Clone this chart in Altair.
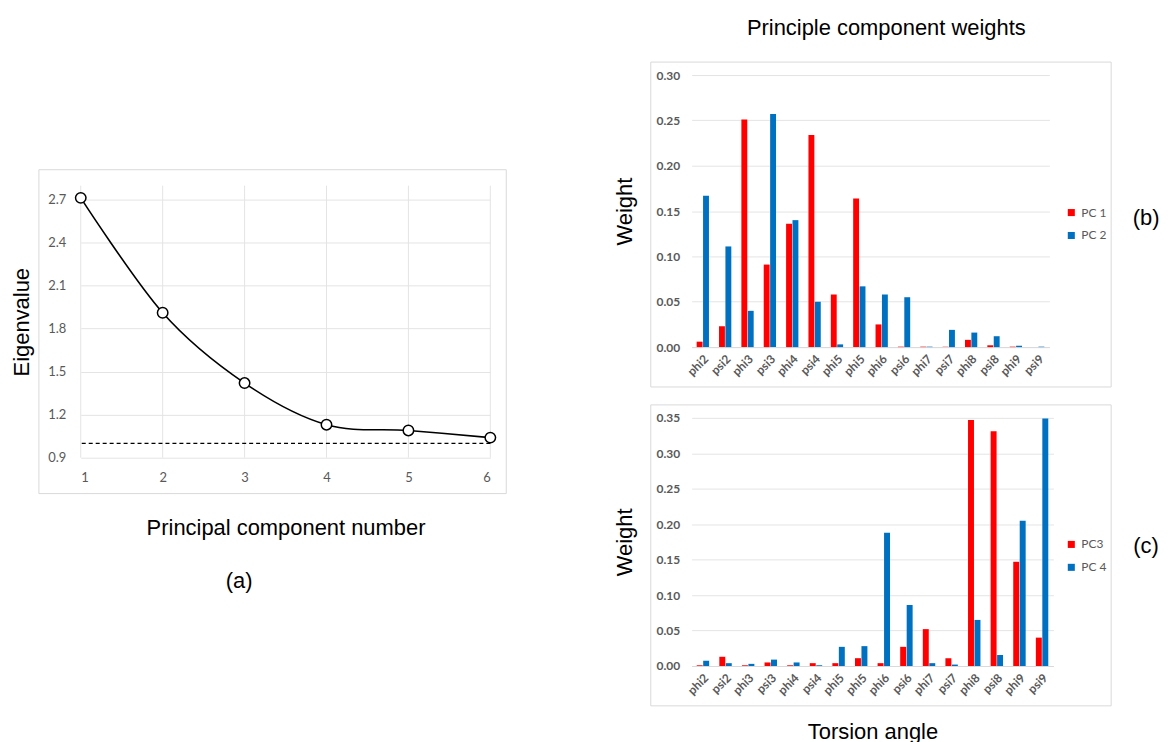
import json
import altair as alt
import pandas as pd

# ---------------- data ----------------
PC_NUMBER = [1, 2, 3, 4, 5, 6]
EIGENVALUES = [2.71, 1.91, 1.42, 1.13, 1.09, 1.04]
EIG_THRESHOLD = 1.0
EIG_TICKS = [0.9, 1.2, 1.5, 1.8, 2.1, 2.4, 2.7]
EIG_DOMAIN = [0.9, 2.795]

TORSION_LABELS = ["phi2", "psi2", "phi3", "psi3", "phi4", "psi4", "phi5", "phi5",
                  "phi6", "psi6", "phi7", "psi7", "phi8", "psi8", "phi9", "psi9"]
PC1 = [0.006, 0.023, 0.251, 0.091, 0.136, 0.234, 0.058, 0.164,
       0.025, 0.0005, 0.0005, 0.0005, 0.008, 0.002, 0.0005, 0.0]
PC2 = [0.167, 0.111, 0.040, 0.257, 0.140, 0.050, 0.003, 0.067,
       0.058, 0.055, 0.0005, 0.019, 0.016, 0.012, 0.0015, 0.0005]
PC3 = [0.001, 0.013, 0.001, 0.005, 0.001, 0.004, 0.004, 0.011,
       0.004, 0.027, 0.052, 0.011, 0.347, 0.331, 0.147, 0.040]
PC4 = [0.0075, 0.004, 0.003, 0.009, 0.005, 0.001, 0.027, 0.028,
       0.188, 0.086, 0.004, 0.002, 0.065, 0.0155, 0.205, 0.349]
SERIES_B = ["PC 1", "PC 2"]
SERIES_C = ["PC3", "PC 4"]
W_TICKS_B = [0.0, 0.05, 0.10, 0.15, 0.20, 0.25, 0.30]
W_TICKS_C = [0.0, 0.05, 0.10, 0.15, 0.20, 0.25, 0.30, 0.35]

RED = "#FF0000"
BLUE = "#0070C0"
GRID = "#e4e4e4"
BORDER = "#d9d9d9"
TICKC = "#595959"
TITLE_FONT = "Liberation Sans"
TICK_FONT = "Lato"

one = pd.DataFrame({"d": [0]})

# ---------------- panel (a) ----------------
A_TOP = 111   # empty band above the eigenvalue plot (shared top with panel b)
A_H = 273
dfa = pd.DataFrame({"pc": PC_NUMBER, "eig": EIGENVALUES})
xa = alt.X("pc:Q", scale=alt.Scale(domain=[1, 6], nice=False, zero=False),
           axis=alt.Axis(values=PC_NUMBER, format="d", title="Principal component number",
                         grid=False, domain=False, ticks=False,
                         labelPadding=14, labelFontSize=13, labelColor=TICKC,
                         titlePadding=33))
ya = alt.Y("eig:Q", scale=alt.Scale(domain=EIG_DOMAIN, nice=False, zero=False,
                                    range=[A_TOP + A_H, A_TOP]),
           axis=alt.Axis(values=EIG_TICKS, format=".1f", title="Eigenvalue",
                         grid=True, gridColor=GRID, domain=False, ticks=False,
                         labelPadding=15, labelFontSize=13, labelColor=TICKC,
                         titlePadding=14))

border_a = alt.Chart(one).mark_rect(fillOpacity=0, stroke=BORDER, strokeWidth=1).encode(
    x=alt.value(-42), x2=alt.value(427), y=alt.value(A_TOP - 16), y2=alt.value(A_TOP + 309))
vgrid = alt.Chart(dfa).mark_rule(color=GRID, strokeWidth=1).encode(
    x=alt.X("pc:Q"), y=alt.datum(EIG_DOMAIN[0]), y2=alt.datum(EIG_DOMAIN[1]))
thr = alt.Chart(one).mark_rule(color="black", strokeDash=[4, 3], strokeWidth=1.3).encode(
    y=alt.datum(EIG_THRESHOLD))
line = alt.Chart(dfa).mark_line(interpolate="cardinal", color="black", strokeWidth=1.6).encode(
    x=xa, y=ya)
pts = alt.Chart(dfa).mark_point(shape="circle", filled=True, fill="white", stroke="black",
                                strokeWidth=1.5, size=110, opacity=1).encode(
    x="pc:Q", y="eig:Q")
lab_a = alt.Chart(one).mark_text(text="(a)", fontSize=22, font=TITLE_FONT, color="black").encode(
    x=alt.value(159), y=alt.value(A_TOP + 397))

panel_a = alt.layer(border_a, line, vgrid, thr, pts, lab_a).properties(width=411, height=A_TOP + A_H)

# ---------------- bar panels ----------------
LABEL_EXPR = json.dumps(TORSION_LABELS) + "[datum.value]"


def bar_panel(v1, v2, series, ymax, ticks, width, height, legend_y, tag, tag_y, xtitle):
    df = pd.DataFrame({
        "idx": list(range(len(TORSION_LABELS))) * 2,
        "w": list(v1) + list(v2),
        "series": [series[0]] * len(v1) + [series[1]] * len(v2),
    })
    x = alt.X("idx:O", scale=alt.Scale(paddingInner=0.45, paddingOuter=0.225),
              axis=alt.Axis(labelExpr=LABEL_EXPR, labelAngle=-45, title=xtitle,
                            ticks=False, domain=True, domainColor=BORDER,
                            labelFontWeight="bold", labelColor=TICKC, labelFontSize=12,
                            labelPadding=6, titlePadding=25))
    y = alt.Y("w:Q", scale=alt.Scale(domain=[0, ymax], nice=False),
              axis=alt.Axis(values=ticks, format=".2f", title="Weight", grid=True,
                            gridColor=GRID, domain=False, ticks=False, labelPadding=12,
                            labelFontWeight="bold", labelColor=TICKC, labelFontSize=12,
                            titlePadding=20))
    bars = alt.Chart(df).mark_bar().encode(
        x=x, y=y,
        xOffset=alt.XOffset("series:N", sort=series, scale=alt.Scale(paddingInner=0.08)),
        color=alt.Color("series:N", sort=series,
                        scale=alt.Scale(domain=series, range=[RED, BLUE]),
                        legend=alt.Legend(title=None, orient="none", legendX=375, legendY=legend_y,
                                          symbolType="square", symbolSize=50, symbolStrokeWidth=0,
                                          labelFontSize=12, labelColor=TICKC, labelFont=TICK_FONT,
                                          rowPadding=11)),
    )
    border = alt.Chart(one).mark_rect(fillOpacity=0, stroke=BORDER, strokeWidth=1).encode(
        x=alt.value(-41), x2=alt.value(421), y=alt.value(-13), y2=alt.value(height + 40))
    tagm = alt.Chart(one).mark_text(text=tag, fontSize=22, font=TITLE_FONT, color="black").encode(
        x=alt.value(456), y=alt.value(tag_y))
    return alt.layer(border, bars, tagm).properties(width=width, height=height)


panel_b = bar_panel(PC1, PC2, SERIES_B, 0.30, W_TICKS_B, 359, 273, 132, "(b)", 143, None)
panel_c = bar_panel(PC3, PC4, SERIES_C, 0.35, W_TICKS_C, 363, 249, 121, "(c)", 129, "Torsion angle")

right = alt.vconcat(
    panel_b, panel_c, spacing=16,
    title=alt.Title("Principle component weights", fontSize=22, fontWeight="normal",
                    font=TITLE_FONT, color="black", anchor="middle", offset=22),
).resolve_scale(color="independent", x="independent", y="independent", xOffset="independent")

chart = alt.hconcat(panel_a, right, spacing=106).properties(
    padding={"left": 2, "top": 7, "right": 0, "bottom": 0}
).configure_view(strokeWidth=0).configure_axis(
    labelFont=TICK_FONT, titleFont=TITLE_FONT, titleFontSize=22, titleFontWeight="normal",
    titleColor="black"
)

chart.save("out.html", embed_options={"renderer": "svg", "actions": False})
